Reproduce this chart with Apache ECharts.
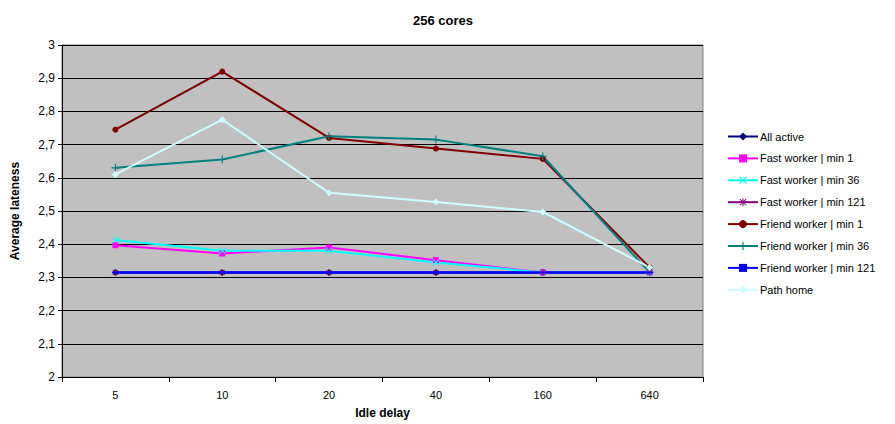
<!DOCTYPE html>
<html>
<head>
<meta charset="utf-8">
<script src="https://cdn.jsdelivr.net/npm/echarts@6/dist/echarts.min.js"></script>
<style>
  html, body { margin: 0; padding: 0; background: #fff; }
  #chart { width: 895px; height: 424px; }
</style>
</head>
<body>
<div id="chart"></div>
<script>
var categories = ['5', '10', '20', '40', '160', '640'];

var allActive = [2.315, 2.315, 2.315, 2.315, 2.315, 2.315];
var fastMin1 = [2.397, 2.372, 2.390, 2.352, 2.315, 2.315];
var fastMin36 = [2.413, 2.380, 2.380, 2.345, 2.315, 2.315];
var fastMin121 = [2.315, 2.315, 2.315, 2.315, 2.315, 2.315];
var friendMin1 = [2.745, 2.920, 2.720, 2.688, 2.657, 2.330];
var friendMin36 = [2.630, 2.655, 2.725, 2.715, 2.665, 2.315];
var friendMin121 = [2.315, 2.315, 2.315, 2.315, 2.315, 2.315];
var pathHome = [2.610, 2.775, 2.555, 2.527, 2.497, 2.330];

// marker shapes (filled outlines so they read like Excel's)
var symX = 'path://M1,0L5,4L9,0L10,1L6,5L10,9L9,10L5,6L1,10L0,9L4,5L0,1Z';
var symPlus = 'path://M4.3,0H5.7V4.3H10V5.7H5.7V10H4.3V5.7H0V4.3H4.3Z';
var symStar = 'path://M4.4,0H5.6V3.6L8.4,0.8L9.2,1.6L6.4,4.4H10V5.6H6.4L9.2,8.4L8.4,9.2L5.6,6.4V10H4.4V6.4L1.6,9.2L0.8,8.4L3.6,5.6H0V4.4H3.6L0.8,1.6L1.6,0.8L4.4,3.6Z';
var symDash = 'path://M0,0H10V2H0Z';

function mk(name, data, color, symbol, size, width) {
  return {
    name: name,
    type: 'line',
    data: data,
    symbol: symbol,
    symbolSize: size,
    showAllSymbol: true,
    lineStyle: { color: color, width: width },
    itemStyle: { color: color, borderWidth: 0 },
    emphasis: { disabled: true },
    animation: false
  };
}

var chart = echarts.init(document.getElementById('chart'), null, { renderer: 'svg' });
var option = {
  backgroundColor: '#fff',
  textStyle: { fontFamily: 'Liberation Sans, Arial, sans-serif' },
  title: {
    text: '256 cores',
    left: 438,
    top: 9,
    textAlign: 'center',
    textStyle: { fontSize: 13, fontWeight: 'bold', color: '#000' }
  },
  legend: {
    orient: 'vertical',
    left: 727,
    top: 131,
    padding: 0,
    itemWidth: 30,
    itemHeight: 10,
    itemGap: 10.9,
    textStyle: { fontSize: 11, color: '#000', padding: [0, 0, 0, -3] },
    data: ['All active', 'Fast worker | min 1', 'Fast worker | min 36', 'Fast worker | min 121',
           'Friend worker | min 1', 'Friend worker | min 36', 'Friend worker | min 121', 'Path home']
  },
  grid: {
    left: 62, right: 192, top: 45, bottom: 47,
    show: true,
    backgroundColor: '#C0C0C0',
    borderColor: '#808080',
    borderWidth: 1
  },
  xAxis: {
    type: 'category',
    data: categories,
    boundaryGap: true,
    name: 'Idle delay',
    nameLocation: 'middle',
    nameGap: 30,
    nameTextStyle: { fontSize: 12, fontWeight: 'bold', color: '#000' },
    axisLine: { lineStyle: { color: '#000', width: 1 } },
    axisTick: { show: true, length: 5, lineStyle: { color: '#000' } },
    axisLabel: { fontSize: 11, color: '#000', margin: 12 },
    splitLine: { show: false }
  },
  yAxis: {
    type: 'value',
    min: 2,
    max: 3,
    interval: 0.1,
    name: 'Average lateness',
    nameLocation: 'middle',
    nameGap: 41,
    nameTextStyle: { fontSize: 12, fontWeight: 'bold', color: '#000' },
    axisLine: { show: true, lineStyle: { color: '#000', width: 1 } },
    axisTick: { show: true, length: 4, lineStyle: { color: '#000' } },
    axisLabel: {
      fontSize: 12, color: '#000', margin: 7,
      formatter: function (v) { return String(Math.round(v * 10) / 10).replace('.', ','); }
    },
    splitLine: { show: true, lineStyle: { color: '#000', width: 1 } }
  },
  series: [
    mk('All active', allActive, '#000080', 'diamond', 7, 2),
    mk('Fast worker | min 1', fastMin1, '#FF00FF', 'rect', 6, 2),
    mk('Fast worker | min 36', fastMin36, '#00FFFF', symX, 7, 2),
    mk('Fast worker | min 121', fastMin121, '#800080', symStar, 7, 1),
    mk('Friend worker | min 1', friendMin1, '#800000', 'circle', 6, 2),
    mk('Friend worker | min 36', friendMin36, '#008080', symPlus, 8, 2),
    mk('Friend worker | min 121', friendMin121, '#0000FF', symDash, [7, 1.5], 2.5),
    mk('Path home', pathHome, '#CCFFFF', 'diamond', 7, 2)
  ]
};
chart.setOption(option);
</script>
</body>
</html>
